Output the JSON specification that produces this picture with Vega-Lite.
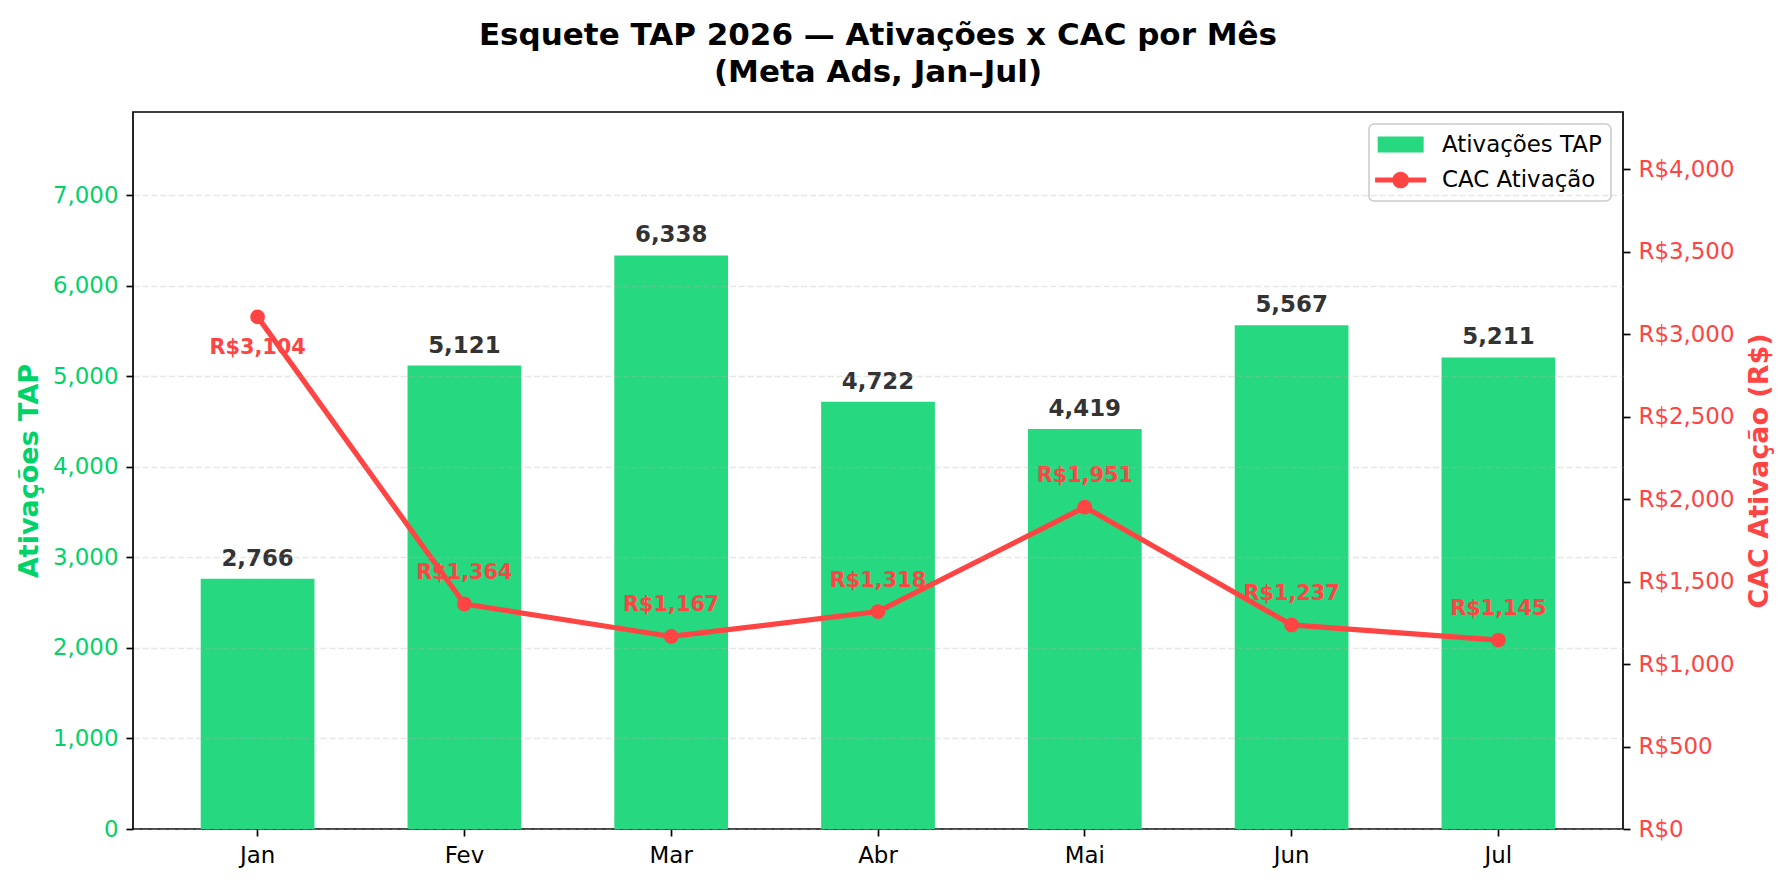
{
  "$schema": "https://vega.github.io/schema/vega-lite/v6.json",
  "width": 1490,
  "height": 717,
  "autosize": {"type": "none"},
  "padding": {"left": 133, "top": 112, "right": 164, "bottom": 55},
  "background": "white",
  "config": {
    "font": "DejaVu Sans",
    "view": {"stroke": "black", "strokeWidth": 1.7},
    "locale": {"number": {"decimal": ".", "thousands": ",", "grouping": [3], "currency": ["R$", ""]}},
    "axis": {"labelFont": "DejaVu Sans", "titleFont": "DejaVu Sans", "domain": false, "tickColor": "black", "tickWidth": 1.7, "tickSize": 7, "labelPadding": 8, "labelFontSize": 22.9},
    "legend": {"labelFont": "DejaVu Sans"}
  },
  "title": {
    "text": ["Esquete TAP 2026 — Ativações x CAC por Mês", "(Meta Ads, Jan–Jul)"],
    "font": "DejaVu Sans",
    "fontSize": 31,
    "fontWeight": "bold",
    "color": "black",
    "anchor": "middle",
    "frame": "group",
    "offset": 23,
    "lineHeight": 37.5
  },
  "data": {
    "values": [
      {"mes": "Jan", "ativacoes": 2766, "cac": 3104},
      {"mes": "Fev", "ativacoes": 5121, "cac": 1364},
      {"mes": "Mar", "ativacoes": 6338, "cac": 1167},
      {"mes": "Abr", "ativacoes": 4722, "cac": 1318},
      {"mes": "Mai", "ativacoes": 4419, "cac": 1951},
      {"mes": "Jun", "ativacoes": 5567, "cac": 1237},
      {"mes": "Jul", "ativacoes": 5211, "cac": 1145}
    ]
  },
  "encoding": {
    "x": {
      "field": "mes",
      "type": "nominal",
      "sort": null,
      "scale": {"paddingInner": 0.45, "paddingOuter": 0.3275},
      "axis": {"title": null, "labelAngle": 0, "labelColor": "black", "grid": false}
    }
  },
  "layer": [
    {
      "encoding": {
        "y": {
          "field": "ativacoes",
          "type": "quantitative",
          "scale": {"domain": [0, 7922.5], "nice": false},
          "axis": {
            "values": [0, 1000, 2000, 3000, 4000, 5000, 6000, 7000],
            "labelExpr": "format(datum.value, ',.0f')",
            "labelColor": "#00D26A",
            "title": "Ativações TAP",
            "titleColor": "#00D26A",
            "titleFontSize": 27,
            "titleFontWeight": "bold",
            "titlePadding": 9,
            "grid": true,
            "gridColor": "#b0b0b0",
            "gridOpacity": 0.3,
            "gridDash": [6.2, 2.7],
            "gridWidth": 1.6,
            "zindex": 1
          }
        }
      },
      "layer": [
        {
          "mark": {"type": "bar"},
          "encoding": {
            "color": {
              "datum": "Ativações TAP",
              "scale": {"domain": ["Ativações TAP", "CAC Ativação"], "range": ["#26D880", "#FF4444"]},
              "legend": {
                "title": null,
                "orient": "top-right",
                "offset": 12,
                "padding": 9,
                "fillColor": "white",
                "strokeColor": "#cccccc",
                "cornerRadius": 5,
                "labelFontSize": 22.9,
                "labelColor": "black",
                "labelOffset": 41,
                "symbolSize": 529,
                "symbolStrokeWidth": 0,
                "rowPadding": 11.5,
                "encode": {
                  "legend": {"update": {"strokeWidth": {"value": 1.6}}},
                  "symbols": {
                    "update": {
                      "shape": {"signal": "datum.value === 'Ativações TAP' ? 'M-1.03,-0.7L2.97,-0.7L2.97,0.7L-1.03,0.7Z' : 'M-1.25,-0.226L3.19,-0.226L3.19,0.226L-1.25,0.226Z M1.696,0A0.726,0.726 0 1,1 0.244,0A0.726,0.726 0 1,1 1.696,0Z'"},
                      "fill": {"signal": "datum.value === 'Ativações TAP' ? '#26D880' : '#FF4444'"},
                      "strokeWidth": {"value": 0},
                      "opacity": {"value": 1},
                      "fillOpacity": {"value": 1}
                    }
                  }
                }
              }
            }
          }
        },
        {
          "mark": {"type": "text", "baseline": "alphabetic", "align": "center", "dy": -13, "fontSize": 22.9, "fontWeight": "bold", "color": "#333333", "font": "DejaVu Sans"},
          "encoding": {"text": {"field": "ativacoes", "type": "quantitative", "format": ","}}
        }
      ]
    },
    {
      "encoding": {
        "y": {
          "field": "cac",
          "type": "quantitative",
          "scale": {"domain": [0, 4345.6], "nice": false},
          "axis": {
            "orient": "right",
            "values": [0, 500, 1000, 1500, 2000, 2500, 3000, 3500, 4000],
            "labelExpr": "'R$' + format(datum.value, ',.0f')",
            "labelColor": "#FF4444",
            "title": "CAC Ativação (R$)",
            "titleColor": "#FF4444",
            "titleFontSize": 27,
            "titleFontWeight": "bold",
            "titleAngle": 270,
            "titleBaseline": "top",
            "titlePadding": 13,
            "grid": false
          }
        }
      },
      "layer": [
        {
          "mark": {"type": "line", "strokeWidth": 5.2, "point": {"filled": true, "size": 219, "opacity": 1}},
          "encoding": {"color": {"datum": "CAC Ativação"}}
        },
        {
          "transform": [{"filter": "datum.mes !== 'Jan'"}],
          "mark": {"type": "text", "baseline": "alphabetic", "align": "center", "dy": -25, "fontSize": 20.8, "fontWeight": "bold", "color": "#FF4444", "font": "DejaVu Sans"},
          "encoding": {
            "text": {"field": "cac", "type": "quantitative", "format": "$,"}
          }
        },
        {
          "transform": [{"filter": "datum.mes === 'Jan'"}],
          "mark": {"type": "text", "baseline": "alphabetic", "align": "center", "dy": 37, "fontSize": 20.8, "fontWeight": "bold", "color": "#FF4444", "font": "DejaVu Sans"},
          "encoding": {
            "text": {"field": "cac", "type": "quantitative", "format": "$,"}
          }
        }
      ]
    }
  ],
  "resolve": {"scale": {"y": "independent"}}
}
